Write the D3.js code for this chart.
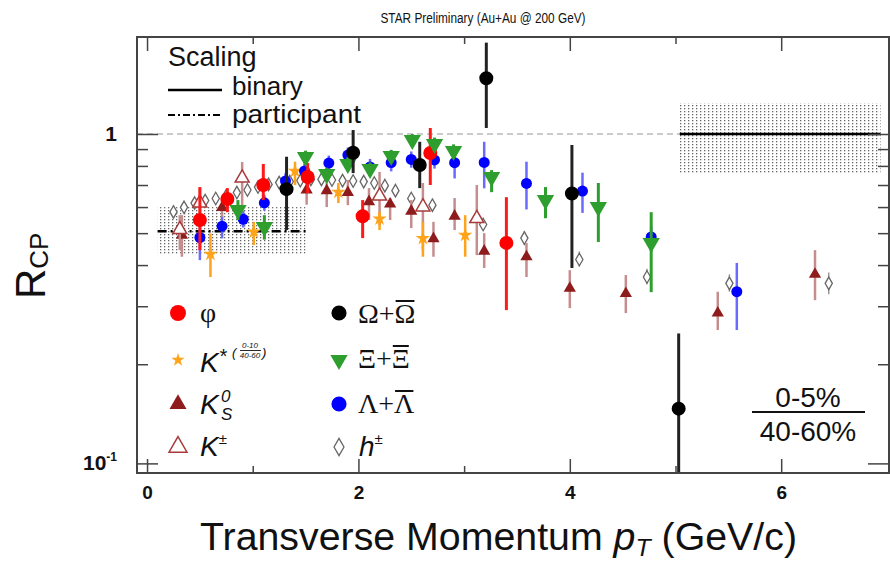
<!DOCTYPE html>
<html>
<head>
<meta charset="utf-8">
<title>STAR Preliminary RCP</title>
<script src="https://d3js.org/d3.v7.min.js"></script>
<style>
  body { margin: 0; background: #fff; }
  text { font-family: "Liberation Sans", Arial, sans-serif; fill: #111; }
  .serif { font-family: "Liberation Serif", "DejaVu Serif", serif; }
</style>
</head>
<body>
<script>
// values: [pT, Rcp, low end of bar, high end of bar]
var phi = [
  [0.50, 0.548, 0.444, 0.690], [0.76, 0.635, 0.579, 0.685], [1.10, 0.700, 0.630, 0.811],
  [1.52, 0.740, 0.662, 0.816], [2.04, 0.563, 0.483, 0.630], [2.68, 0.876, 0.700, 1.043],
  [3.40, 0.467, 0.292, 0.643]
];
var kstar = [
  [0.60, 0.432, 0.368, 0.499], [1.01, 0.505, 0.460, 0.541], [1.40, 0.772, 0.700, 0.824],
  [1.81, 0.666, 0.617, 0.710], [2.20, 0.553, 0.511, 0.580], [2.61, 0.482, 0.424, 0.540],
  [3.01, 0.493, 0.424, 0.567]
];
var k0s = [
  [0.33, 0.493, 0.424, 0.567], [0.71, 0.598, 0.555, 0.630], [1.51, 0.676, 0.610, 0.725],
  [1.70, 0.673, 0.600, 0.735], [1.90, 0.664, 0.608, 0.725], [2.10, 0.623, 0.548, 0.685],
  [2.30, 0.613, 0.548, 0.639], [2.50, 0.583, 0.518, 0.630], [2.71, 0.481, 0.424, 0.541],
  [2.91, 0.563, 0.511, 0.639], [3.19, 0.441, 0.392, 0.500], [3.59, 0.424, 0.368, 0.467],
  [4.00, 0.340, 0.296, 0.386], [4.53, 0.328, 0.286, 0.373], [5.40, 0.286, 0.254, 0.332],
  [6.32, 0.375, 0.313, 0.444]
];
var kpm = [
  [0.31, 0.513, 0.444, 0.567], [0.50, 0.617, 0.555, 0.685], [0.90, 0.735, 0.604, 0.822],
  [2.20, 0.648, 0.529, 0.767], [2.61, 0.601, 0.444, 0.710], [3.12, 0.554, 0.429, 0.700]
];
var omega = [
  [1.32, 0.680, 0.511, 0.853], [1.95, 0.877, 0.761, 1.028], [2.58, 0.805, 0.685, 0.947],
  [3.21, 1.476, 1.043, 1.894], [4.02, 0.660, 0.392, 0.926], [5.03, 0.1466, 0.08, 0.248]
];
var xi = [
  [0.86, 0.588, 0.548, 0.630], [1.11, 0.522, 0.478, 0.567], [1.50, 0.851, 0.810, 0.890],
  [1.70, 0.756, 0.720, 0.790], [1.90, 0.811, 0.770, 0.850], [2.11, 0.783, 0.745, 0.820],
  [2.31, 0.857, 0.820, 0.895], [2.51, 0.959, 0.915, 1.000], [2.72, 0.932, 0.890, 0.975],
  [2.90, 0.888, 0.850, 0.930], [3.26, 0.740, 0.666, 0.777], [3.77, 0.630, 0.555, 0.690],
  [4.27, 0.600, 0.470, 0.710], [4.77, 0.467, 0.331, 0.579]
];
var lambda = [
  [0.50, 0.485, 0.414, 0.541], [0.71, 0.525, 0.482, 0.561], [0.91, 0.551, 0.520, 0.585],
  [1.11, 0.618, 0.585, 0.652], [1.31, 0.720, 0.680, 0.760], [1.49, 0.772, 0.730, 0.815],
  [1.72, 0.816, 0.770, 0.860], [1.90, 0.863, 0.815, 0.910], [2.11, 0.794, 0.750, 0.840],
  [2.31, 0.819, 0.770, 0.870], [2.50, 0.837, 0.790, 0.885], [2.72, 0.834, 0.785, 0.885],
  [2.91, 0.818, 0.733, 0.894], [3.19, 0.820, 0.684, 0.947], [3.59, 0.708, 0.590, 0.824],
  [4.12, 0.671, 0.576, 0.763], [4.77, 0.487, 0.450, 0.525], [5.58, 0.332, 0.254, 0.406]
];
var hpm = [
  [0.25, 0.580], [0.35, 0.599], [0.45, 0.617], [0.55, 0.628], [0.65, 0.637], [0.75, 0.650],
  [0.85, 0.664], [0.95, 0.676], [1.05, 0.690], [1.15, 0.703], [1.25, 0.712], [1.35, 0.717],
  [1.45, 0.722], [1.55, 0.728], [1.65, 0.728], [1.75, 0.725], [1.85, 0.722], [1.95, 0.720],
  [2.05, 0.717], [2.15, 0.710], [2.25, 0.697], [2.35, 0.673], [2.50, 0.637], [2.70, 0.608],
  [3.18, 0.531, 0.512, 0.551], [3.57, 0.483, 0.462, 0.508], [4.09, 0.416, 0.396, 0.440],
  [4.73, 0.368, 0.350, 0.390], [5.51, 0.352, 0.332, 0.375], [6.45, 0.352, 0.326, 0.380]
];
// scaling uncertainty boxes: [pT from, pT to, low, high, central]
var binaryBox = [5.04, 6.94, 0.756, 1.24, 1.0];
var partBox = [0.10, 1.50, 0.432, 0.600, 0.507];
var xMajor = [0, 2, 4, 6], xMinor = [1, 3, 5];
var yMajor = [0.1, 1], yMinor = [0.2, 0.3, 0.4, 0.5, 0.6, 0.7, 0.8, 0.9];

var w = 890, h = 562;
var plotL = 137, plotR = 889, plotT = 37, plotB = 473;

var svg = d3.select("body").append("svg").attr("width", w).attr("height", h);
var defs = svg.append("defs");
var pat = defs.append("pattern").attr("id", "dots").attr("patternUnits", "userSpaceOnUse")
  .attr("width", 4).attr("height", 3);
pat.append("rect").attr("width", 1.3).attr("height", 1.3).attr("fill", "#666");
defs.append("clipPath").attr("id", "clip").append("rect")
  .attr("x", plotL).attr("y", plotT).attr("width", plotR - plotL).attr("height", plotB - plotT);

var xScale = d3.scaleLinear().domain([-0.095, 7.02]).range([plotL, plotR]);
var yScale = d3.scaleLog().domain([0.0935, 1.97]).range([plotB, plotT]);

var plot = svg.append("g").attr("clip-path", "url(#clip)");

// reference line at 1
plot.append("line")
  .attr("x1", plotL).attr("x2", xScale(binaryBox[0]))
  .attr("y1", yScale(1)).attr("y2", yScale(1))
  .attr("stroke", "#bbb").attr("stroke-width", 1.3).attr("stroke-dasharray", "6,4");

// scaling boxes
[binaryBox, partBox].forEach(function(b, i) {
  plot.append("rect")
    .attr("x", xScale(b[0])).attr("width", xScale(b[1]) - xScale(b[0]))
    .attr("y", yScale(b[3])).attr("height", yScale(b[2]) - yScale(b[3]))
    .attr("fill", "url(#dots)");
  plot.append("line")
    .attr("x1", xScale(b[0])).attr("x2", xScale(b[1]))
    .attr("y1", yScale(b[4])).attr("y2", yScale(b[4]))
    .attr("stroke", "#000").attr("stroke-width", 2.5)
    .attr("stroke-dasharray", i == 0 ? null : "9,4,2,4");
});

function symPath(type, size) { return d3.symbol().type(type).size(size)(); }

function drawSeries(data, o) {
  var g = plot.append("g");
  g.selectAll("line").data(data.filter(function(d) { return d.length > 2; })).enter()
    .append("line")
    .attr("x1", function(d) { return xScale(d[0]); })
    .attr("x2", function(d) { return xScale(d[0]); })
    .attr("y1", function(d) { return yScale(d[2]); })
    .attr("y2", function(d) { return yScale(d[3]); })
    .attr("stroke", o.bar).attr("stroke-width", o.bw);
  g.selectAll("path").data(data).enter().append("path")
    .attr("transform", function(d) {
      return "translate(" + xScale(d[0]) + "," + yScale(d[1]) + ")" + (o.rot ? " rotate(180)" : "");
    })
    .attr("d", symPath(o.type, o.size))
    .attr("fill", o.fill).attr("stroke", o.stroke || "none").attr("stroke-width", o.sw || 0);
}

var styles = {
  hpm:    { type: d3.symbolDiamond, size: 45, fill: "#fff", stroke: "#666", sw: 1.3, bar: "#999", bw: 1.5 },
  k0s:    { type: d3.symbolTriangle, size: 65, fill: "#8f1c1c", bar: "#c58d8d", bw: 2.5 },
  kpm:    { type: d3.symbolTriangle, size: 85, fill: "#fff", stroke: "#a83a3a", sw: 1.5, bar: "#c58d8d", bw: 2.5 },
  kstar:  { type: d3.symbolStar, size: 65, fill: "#ffa31a", bar: "#ffa31a", bw: 2.5 },
  lambda: { type: d3.symbolCircle, size: 95, fill: "#0000ff", bar: "#6a6aff", bw: 2.5 },
  phi:    { type: d3.symbolCircle, size: 154, fill: "#ff0000", bar: "#ff1a1a", bw: 3 },
  xi:     { type: d3.symbolTriangle, size: 130, fill: "#2e9e2e", bar: "#2e9e2e", bw: 3, rot: true },
  omega:  { type: d3.symbolCircle, size: 154, fill: "#000", bar: "#222", bw: 3 }
};

drawSeries(hpm, styles.hpm);
drawSeries(k0s, styles.k0s);
drawSeries(kpm, styles.kpm);
drawSeries(kstar, styles.kstar);
drawSeries(lambda, styles.lambda);
drawSeries(phi, styles.phi);
drawSeries(xi, styles.xi);
drawSeries(omega, styles.omega);

// frame
svg.append("rect").attr("x", plotL).attr("y", plotT)
  .attr("width", plotR - plotL).attr("height", plotB - plotT)
  .attr("fill", "none").attr("stroke", "#444").attr("stroke-width", 2);

// axes with inward ticks
function styleAxis(g) {
  g.select(".domain").remove();
  g.selectAll(".tick line").attr("stroke", "#444").attr("stroke-width", 1.5);
}
svg.append("g").attr("transform", "translate(0," + plotB + ")")
  .call(d3.axisBottom(xScale).tickValues(xMajor).tickSize(-14).tickPadding(13))
  .call(styleAxis)
  .selectAll("text").style("font-size", "19px").style("font-weight", "bold")
  .style("font-family", '"Liberation Sans", Arial, sans-serif').attr("fill", "#111");
svg.append("g").attr("transform", "translate(0," + plotB + ")")
  .call(d3.axisBottom(xScale).tickValues(xMinor).tickSize(-7).tickFormat(""))
  .call(styleAxis);
svg.append("g").attr("transform", "translate(0," + plotT + ")")
  .call(d3.axisTop(xScale).tickValues(xMajor).tickSize(-14).tickFormat(""))
  .call(styleAxis);
svg.append("g").attr("transform", "translate(0," + plotT + ")")
  .call(d3.axisTop(xScale).tickValues(xMinor).tickSize(-7).tickFormat(""))
  .call(styleAxis);

// left axis: ticks from d3, labels "1" and "10^-1"
svg.append("g").attr("transform", "translate(" + plotL + ",0)")
  .call(d3.axisLeft(yScale).tickValues(yMajor).tickSize(-21).tickFormat(""))
  .call(styleAxis);
yMajor.forEach(function(v) {
  var t = svg.append("text").attr("x", 117).attr("y", yScale(v) + 7)
    .attr("text-anchor", "end").style("font-weight", "bold");
  if (v === 1) {
    t.style("font-size", "21px").text("1");
  } else {
    t.append("tspan").style("font-size", "21px").text("10");
    t.append("tspan").attr("dy", -9).style("font-size", "12px").text("-1");
  }
});
svg.append("g").attr("transform", "translate(" + plotL + ",0)")
  .call(d3.axisLeft(yScale).tickValues(yMinor).tickSize(-11).tickFormat(""))
  .call(styleAxis);
svg.append("g").attr("transform", "translate(" + plotR + ",0)")
  .call(d3.axisRight(yScale).tickValues(yMajor).tickSize(-21).tickFormat(""))
  .call(styleAxis);
svg.append("g").attr("transform", "translate(" + plotR + ",0)")
  .call(d3.axisRight(yScale).tickValues(yMinor).tickSize(-11).tickFormat(""))
  .call(styleAxis);

// titles
svg.append("text").attr("x", 483).attr("y", 23).attr("text-anchor", "middle")
  .attr("textLength", 205).attr("lengthAdjust", "spacingAndGlyphs")
  .style("font-size", "14px").text("STAR Preliminary (Au+Au @ 200 GeV)");

var xt = svg.append("text").attr("x", 200).attr("y", 550).style("font-size", "38px")
  .attr("textLength", 597).attr("lengthAdjust", "spacingAndGlyphs");
xt.append("tspan").text("Transverse Momentum ");
xt.append("tspan").style("font-style", "italic").text("p");
xt.append("tspan").style("font-style", "italic").style("font-size", "24px").attr("dy", 6).text("T");
xt.append("tspan").attr("dy", -6).text(" (GeV/c)");

var yt = svg.append("text").attr("transform", "translate(45,299) rotate(-90)").style("font-size", "42px");
yt.append("tspan").text("R");
yt.append("tspan").style("font-size", "26px").attr("dy", 3).text("CP");

// scaling legend
svg.append("text").attr("x", 168).attr("y", 66).style("font-size", "27px").text("Scaling");
svg.append("line").attr("x1", 168).attr("x2", 222).attr("y1", 90).attr("y2", 90)
  .attr("stroke", "#000").attr("stroke-width", 2.5);
svg.append("text").attr("x", 232).attr("y", 95).style("font-size", "26px").text("binary");
svg.append("line").attr("x1", 168).attr("x2", 222).attr("y1", 115).attr("y2", 115)
  .attr("stroke", "#000").attr("stroke-width", 2).attr("stroke-dasharray", "7,3,2,3");
svg.append("text").attr("x", 232).attr("y", 123).style("font-size", "25px")
  .attr("textLength", 129).attr("lengthAdjust", "spacingAndGlyphs").text("participant");

// species legend
var leg = svg.append("g");
function legMark(x, y, o, size) {
  leg.append("path").attr("transform", "translate(" + x + "," + y + ")" + (o.rot ? " rotate(180)" : ""))
    .attr("d", symPath(o.type, size))
    .attr("fill", o.fill).attr("stroke", o.stroke || "none").attr("stroke-width", o.sw || 0);
}
legMark(178, 313, styles.phi, 200);
legMark(178, 360, styles.kstar, 55);
legMark(178, 404, styles.k0s, 125);
legMark(178, 447, styles.kpm, 140);
legMark(339, 313, styles.omega, 180);
legMark(339, 360, styles.xi, 130);
legMark(339, 404, styles.lambda, 180);
legMark(339, 447, { type: d3.symbolDiamond, size: 85, fill: "#fff", stroke: "#666", sw: 1.3 }, 85);

leg.append("text").attr("class", "serif").attr("x", 200).attr("y", 322).style("font-size", "28px").text("φ");

var ks = leg.append("text").attr("x", 200).attr("y", 372).style("font-size", "28px").style("font-style", "italic");
ks.append("tspan").text("K");
ks.append("tspan").style("font-size", "20px").attr("dy", -9).text("*");
leg.append("text").attr("x", 232).attr("y", 357).style("font-size", "13px").style("font-style", "italic").text("(");
leg.append("text").attr("x", 250).attr("y", 348).attr("text-anchor", "middle").style("font-size", "8px").style("font-style", "italic").text("0-10");
leg.append("line").attr("x1", 240).attr("x2", 261).attr("y1", 350.5).attr("y2", 350.5).attr("stroke", "#111").attr("stroke-width", 0.9);
leg.append("text").attr("x", 250).attr("y", 358).attr("text-anchor", "middle").style("font-size", "8px").style("font-style", "italic").text("40-60");
leg.append("text").attr("x", 262).attr("y", 357).style("font-size", "13px").style("font-style", "italic").text(")");

leg.append("text").attr("x", 200).attr("y", 414).style("font-size", "28px").style("font-style", "italic").text("K");
leg.append("text").attr("x", 221).attr("y", 402).style("font-size", "17px").style("font-style", "italic").text("0");
leg.append("text").attr("x", 221).attr("y", 420).style("font-size", "17px").style("font-style", "italic").text("S");

var kp = leg.append("text").attr("x", 200).attr("y", 456).style("font-size", "28px");
kp.append("tspan").style("font-style", "italic").text("K");
kp.append("tspan").style("font-size", "15px").attr("dy", -12).text("±");

function barred(x, y, sym) {
  var t = leg.append("text").attr("class", "serif").attr("x", x).attr("y", y).style("font-size", "28px");
  t.append("tspan").text(sym + "+");
  var second = t.append("tspan").text(sym);
  var full = t.node().getComputedTextLength();
  var one = second.node().getComputedTextLength();
  leg.append("line").attr("x1", x + full - one + 1).attr("x2", x + full - 1)
    .attr("y1", y - 22).attr("y2", y - 22).attr("stroke", "#111").attr("stroke-width", 2);
}
barred(358, 323, "Ω");
barred(358, 368, "Ξ");
barred(358, 413, "Λ");

var hp = leg.append("text").attr("x", 359).attr("y", 456).style("font-size", "28px");
hp.append("tspan").style("font-style", "italic").text("h");
hp.append("tspan").style("font-size", "15px").attr("dy", -12).text("±");

// centrality ratio
svg.append("text").attr("x", 808).attr("y", 407).attr("text-anchor", "middle").style("font-size", "28px").text("0-5%");
svg.append("line").attr("x1", 752).attr("x2", 865).attr("y1", 412).attr("y2", 412)
  .attr("stroke", "#111").attr("stroke-width", 2);
svg.append("text").attr("x", 808).attr("y", 441).attr("text-anchor", "middle").style("font-size", "28px").text("40-60%");
</script>
</body>
</html>
